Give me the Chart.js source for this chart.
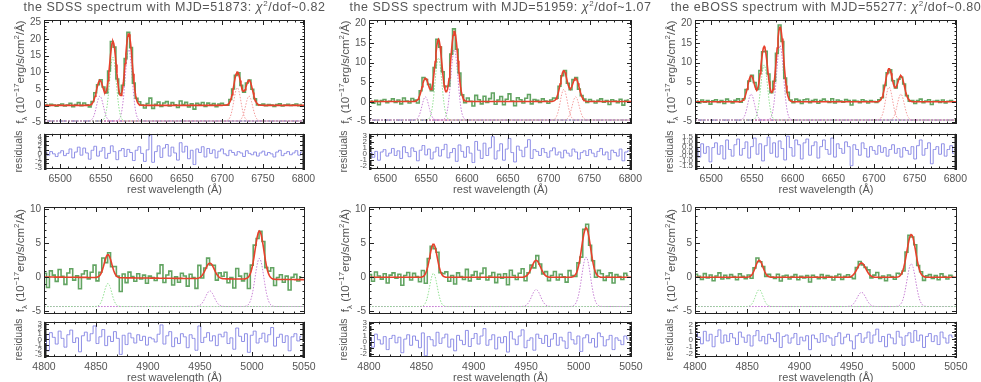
<!DOCTYPE html>
<html>
<head>
<meta charset="utf-8">
<script src="https://cdn.jsdelivr.net/npm/chart.js@4.4.1/dist/chart.umd.min.js"></script>
<style>
  body { margin: 0; background: #fff; width: 981px; height: 382px; overflow: hidden; position: relative;
         font-family: "Liberation Sans", Arial, sans-serif; }
  canvas { position: absolute; }
  .title { position: absolute; top: 0; font-size: 12.5px; color: #555; letter-spacing: 0.55px;
           white-space: nowrap; transform: translateX(-50%); }
  .title sup { font-size: 8px; vertical-align: 5px; line-height: 0; }
</style>
</head>
<body>
<script>
  // titles
  const titles = ["the SDSS spectrum with MJD=51873", "the SDSS spectrum with MJD=51959", "the eBOSS spectrum with MJD=55277"];
  const chi2 = ["0.82", "1.07", "0.80"];

  // x tick labels
  const haTicks = [6500, 6550, 6600, 6650, 6700, 6750, 6800];
  const hbTicks = [4800, 4850, 4900, 4950, 5000, 5050];

  // spectral sampling
  const haStart = 6482, haStep = 3.4;
  const hbStart = 4801, hbStep = 2.8;

  // emission lines: [NII]6548, Ha, [NII]6583, [SII]6716, [SII]6731
  const haLines = [6549, 6565, 6584.5, 6718.5, 6733];
  const haSigma = [4.2, 4.2, 4.3, 4.3, 4.3];
  const haAmp51873 = [7.5, 19.2, 21.5, 10.0, 7.5];
  const haAmp51959 = [5.9, 15.8, 17.9, 7.8, 5.9];
  const haAmp55277 = [6.6, 14.0, 19.0, 8.4, 6.6];
  const haCont = [[0.1, 0.1], [0.1, 0.1], [0.05, 0.05]];
  const haErr = [0.5, 0.75, 0.55];

  // Hb, [OIII]4959, [OIII]5007
  const hbLines = [4861.5, 4959.5, 5007.2];
  const hbSigma = [3.6, 4.2, 4.2];
  const hbAmp51873 = [3.4, 2.3, 7.1];
  const hbAmp51959 = [4.9, 2.5, 7.3];
  const hbAmp55277 = [2.5, 2.1, 6.3];
  const hbCont = [[0.05, -0.35], [0, 0], [0, 0]];
  const hbErr = [0.7, 0.65, 0.5];

  // residuals (data - model) / error
  const haRes51873 = [0.4,-0.2,0.6,0.1,-0.5,0.3,0.8,-0.3,0.2,1.2,
    -0.8,0.5,1.6,-0.2,1.4,0.3,-1.1,0.9,1.8,-0.4,
    0.7,1.5,-0.9,0.2,1.9,0.6,-1.2,0.8,1.3,-0.5,
    1.1,0.4,-1.4,0.9,1.7,0.2,-1.6,1.0,4.3,-1.8,
    0.6,1.9,-0.7,1.4,2.2,-0.4,1.6,0.3,-1.3,2.6,
    0.5,1.8,-1.0,0.9,-2.3,1.2,0.4,1.7,-0.6,1.3,
    0.2,1.0,-0.8,0.7,1.2,0.1,-0.3,0.9,0.4,-0.2,
    0.6,0.3,-0.5,0.8,0.2,-0.1,0.5,-0.4,0.3,0.7,
    -0.2,0.4,0.1,-0.6,0.5,0.9,-0.3,0.2,0.6,-0.1,
    0.3,0.8,-0.2,0.5];
  const haRes51959 = [0.2,-0.6,0.4,-1.1,0.3,0.7,-0.4,0.1,0.9,-0.3,
    0.5,-0.8,1.2,0.2,-0.5,1.0,0.4,-1.2,0.6,1.4,
    -0.2,0.8,-0.9,0.3,1.1,-0.4,0.7,1.6,-0.7,0.2,
    0.9,-1.3,1.5,0.4,-0.6,1.2,0.1,-1.5,2.1,0.6,
    -0.8,1.8,-0.3,1.0,2.9,-0.9,0.5,1.7,-1.1,0.8,
    2.6,0.2,-1.4,1.3,0.6,-0.5,1.1,2.4,-0.8,0.7,
    0.4,-0.3,0.9,0.2,-0.6,0.5,1.0,-0.2,0.3,-0.7,
    0.6,0.1,-0.4,0.8,0.3,-0.9,0.2,0.5,-0.3,0.7,
    0.1,-0.5,0.4,0.9,-0.2,0.3,-1.0,0.6,0.2,-0.4,
    0.8,-1.2,0.3,0.5];
  const haRes55277 = [0.3,-0.6,0.8,-0.2,0.5,-1.1,0.4,0.9,-0.3,0.6,
    -0.8,1.2,0.2,-0.5,0.7,1.3,-0.4,0.3,1.0,-0.7,
    0.5,1.4,-0.3,0.8,-1.0,0.6,1.5,-0.2,0.9,-0.6,
    1.1,0.3,-0.9,1.6,0.4,-0.5,1.2,0.7,-0.8,0.9,
    1.3,-0.4,0.6,1.0,-0.7,0.5,1.2,0.2,-0.3,1.4,
    -0.6,0.8,0.3,-0.2,1.0,0.5,-1.5,0.7,0.2,-0.4,
    0.9,0.3,-0.6,0.5,0.1,-0.3,0.6,-0.1,0.4,-0.5,
    0.2,0.7,-0.2,0.3,-0.6,0.4,0.1,-0.3,0.5,-0.8,
    0.6,1.2,-0.4,0.3,0.9,-1.3,0.2,0.5,-0.3,0.8,
    -0.5,0.2,0.6,-0.2];
  const hbRes51873 = [0.8,-2.2,1.3,0.4,-0.9,1.6,0.2,-1.5,0.9,1.8,
    -0.6,0.3,-2.4,0.7,1.4,-0.3,1.1,2.6,-0.8,0.5,
    1.9,-1.2,0.6,-0.4,1.5,0.2,-2.9,0.8,-1.0,1.2,
    0.3,-0.7,0.9,-0.2,0.6,-1.1,0.4,0.1,-0.5,1.0,
    2.8,-0.9,0.7,1.5,-1.4,0.3,-0.8,1.1,0.5,-1.6,
    0.9,0.2,-2.1,2.6,-0.6,0.4,1.3,-0.3,0.7,-1.2,
    1.0,0.5,1.4,-0.8,0.3,-1.9,2.2,0.6,-0.4,1.1,
    -2.5,0.8,1.6,-0.7,0.2,1.2,-0.5,0.9,2.3,-1.3,
    0.4,1.0,-0.6,0.7,-2.2,0.5,1.1,-0.3,0.6];
  const hbRes51959 = [0.6,-0.9,1.2,0.3,-0.4,0.8,-1.3,0.5,1.0,-0.2,
    0.7,-1.8,0.4,1.1,-0.6,0.9,0.2,-1.0,1.4,-2.3,
    0.8,0.3,-0.7,1.5,-0.3,0.6,1.2,-0.9,0.4,-1.5,
    1.0,0.2,-0.5,1.8,-0.8,0.5,1.3,-0.4,0.9,2.1,
    -0.6,0.3,1.1,-1.2,0.7,-0.2,0.8,-1.7,1.6,0.4,
    -0.5,0.9,1.9,-1.0,0.2,0.6,-1.4,1.2,0.5,-0.3,
    1.0,-0.8,0.4,1.3,-0.6,0.7,0.1,-1.1,1.5,0.3,
    -0.4,0.9,-1.6,0.6,1.1,-0.2,0.5,-0.9,1.4,0.8,
    -0.7,0.3,1.0,-1.3,0.6,0.2,-0.5,0.9,0.4];
  const hbRes55277 = [0.9,0.3,-0.6,1.1,-0.2,0.7,-1.0,0.4,1.3,-0.5,
    0.6,-0.3,0.8,0.2,-0.7,1.0,0.3,-0.4,0.6,-0.9,
    0.5,1.2,-0.2,0.4,-0.6,0.7,0.1,-0.3,0.9,-1.1,
    0.4,0.6,-0.5,0.2,0.8,-0.7,0.3,-0.2,0.5,-1.4,
    0.6,0.1,-0.4,0.8,-0.3,0.5,0.2,-0.8,0.4,0.9,
    -0.6,0.3,0.7,-0.2,-1.3,0.5,0.8,-0.4,0.2,1.0,
    -0.5,0.6,1.4,-0.3,0.4,-1.0,0.7,0.2,-0.6,1.1,
    0.3,-0.8,0.5,0.9,-0.4,1.2,-0.2,0.6,-1.1,0.4,
    0.8,-0.3,0.5,-0.7,1.0,0.2,-0.5,0.6,0.3];

  // ---- layout ----
  const colL = [44, 369, 695], colR = [305, 632, 957];
  const mainBox = [[20, 125], [207, 315]];
  const resBox = [[133, 169], [321, 357]];
  const font = '"Liberation Sans", Arial, sans-serif';
  const ink = "#555";
  const purple = "#c77fd4", lgreen = "#8fe08f", pink = "#f39a9a";

  const panels = [
    { row: 0, col: 0, lines: haLines, sig: haSigma, amp: haAmp51873, cont: haCont[0], err: haErr[0], res: haRes51873,
      yr: [-5.5, 25.7], rr: [-3.3, 4.6], rs: 1 },
    { row: 0, col: 1, lines: haLines, sig: haSigma, amp: haAmp51959, cont: haCont[1], err: haErr[1], res: haRes51959,
      yr: [-5.6, 20.8], rr: [-2.6, 3.4], rs: 1 },
    { row: 0, col: 2, lines: haLines, sig: haSigma, amp: haAmp55277, cont: haCont[2], err: haErr[2], res: haRes55277,
      yr: [-5.6, 20.8], rr: [-1.85, 1.85], rs: 0.5 },
    { row: 1, col: 0, lines: hbLines, sig: hbSigma, amp: hbAmp51873, cont: hbCont[0], err: hbErr[0], res: hbRes51873,
      yr: [-5.4, 10.35], rr: [-3.4, 3.4], rs: 1 },
    { row: 1, col: 1, lines: hbLines, sig: hbSigma, amp: hbAmp51959, cont: hbCont[1], err: hbErr[1], res: hbRes51959,
      yr: [-5.4, 10.35], rr: [-2.5, 3.2], rs: 1 },
    { row: 1, col: 2, lines: hbLines, sig: hbSigma, amp: hbAmp55277, cont: hbCont[2], err: hbErr[2], res: hbRes55277,
      yr: [-5.4, 10.35], rr: [-2.4, 2.4], rs: 1 },
  ];

  function addCanvas(left, top, w, h) {
    const c = document.createElement("canvas");
    c.width = w; c.height = h;
    c.style.left = left + "px"; c.style.top = top + "px";
    c.style.width = w + "px"; c.style.height = h + "px";
    document.body.appendChild(c);
    return c;
  }

  // ticks at whole multiples of step inside [min, max]
  function stepTicks(min, max, step) {
    const out = [];
    for (let k = Math.ceil(min / step - 1e-6); k * step <= max + 1e-6; k++) out.push({ value: +(k * step).toFixed(6) });
    return out;
  }

  // text with sub/superscripts, rotated to read bottom-up
  function drawRuns(ctx, runs, cx, cy, size) {
    ctx.save();
    ctx.translate(cx, cy);
    ctx.rotate(-Math.PI / 2);
    ctx.fillStyle = ink;
    ctx.textBaseline = "middle";
    ctx.textAlign = "left";
    const fnt = (r) => (r.s ? size * 0.68 : size) + "px " + font;
    let total = 0;
    runs.forEach((r) => { ctx.font = fnt(r); total += ctx.measureText(r.t).width; });
    let x = -total / 2;
    runs.forEach((r) => {
      ctx.font = fnt(r);
      const dy = r.s === "sup" ? -size * 0.38 : r.s === "sub" ? size * 0.3 : 0;
      ctx.fillText(r.t, x, dy);
      x += ctx.measureText(r.t).width;
    });
    ctx.restore();
  }

  // box with inward ticks on all sides, plus axis titles
  function frame(o) {
    return {
      id: "frame",
      afterDatasetsDraw(chart) {
        const { ctx, chartArea: a } = chart;
        const x = chart.scales.x, y = chart.scales.y;
        const isMajor = (v, m) => Math.abs(v / m - Math.round(v / m)) < 1e-6;
        ctx.save();
        ctx.strokeStyle = "#222";
        ctx.lineWidth = 1;
        ctx.beginPath();
        stepTicks(x.min, x.max, o.xMinor).forEach(({ value: v }) => {
          const len = isMajor(v, o.xMajor) ? 5 : 2.5;
          const p = Math.round(x.getPixelForValue(v)) + 0.5;
          ctx.moveTo(p, a.bottom); ctx.lineTo(p, a.bottom - len);
          ctx.moveTo(p, a.top); ctx.lineTo(p, a.top + len);
        });
        stepTicks(y.min, y.max, o.yMinor).forEach(({ value: v }) => {
          const len = isMajor(v, o.yMajor) ? 5 : 2.5;
          const p = Math.round(y.getPixelForValue(v)) + 0.5;
          ctx.moveTo(a.left, p); ctx.lineTo(a.left + len, p);
          ctx.moveTo(a.right, p); ctx.lineTo(a.right - len, p);
        });
        ctx.stroke();
        ctx.strokeRect(Math.round(a.left) + 0.5, Math.round(a.top) + 0.5, Math.round(a.width) - 1, Math.round(a.height) - 1);
        if (o.yTitle) drawRuns(ctx, o.yTitle, a.left - o.yTitleOff, (a.top + a.bottom) / 2, o.yTitleSize);
        if (o.xTitle) {
          ctx.fillStyle = ink;
          ctx.font = "11px " + font;
          ctx.textAlign = "center";
          ctx.textBaseline = "middle";
          ctx.fillText(o.xTitle, (a.left + a.right) / 2, a.bottom + 21);
        }
        ctx.restore();
      },
    };
  }

  const gauss = (l, c, s) => Math.exp(-0.5 * ((l - c) / s) ** 2);
  function model(p, l, xr) {
    let f = p.cont[0] + (p.cont[1] - p.cont[0]) * (l - xr[0]) / (xr[1] - xr[0]);
    p.lines.forEach((c, k) => { f += p.amp[k] * gauss(l, c, p.sig[k]); });
    return f;
  }

  const line = (data, color, width, extra) =>
    Object.assign({ data, borderColor: color, borderWidth: width, pointRadius: 0, fill: false, tension: 0 }, extra);

  const fluxTitle = [{ t: "f" }, { t: "λ", s: "sub" }, { t: " (10" }, { t: "−17", s: "sup" },
    { t: "erg/s/cm" }, { t: "2", s: "sup" }, { t: "/Å)" }];

  panels.forEach((p) => {
    const isHa = p.row === 0;
    const xr = isHa ? [6480, 6802] : [4800, 5051];
    const start = isHa ? haStart : hbStart, step = isHa ? haStep : hbStep;
    const base = isHa ? -4.6 : -4.3;
    const colors = isHa ? [purple, lgreen, purple, pink, pink] : [lgreen, purple, purple];
    const L = colL[p.col], R = colR[p.col];

    const waves = p.res.map((_, i) => start + i * step);
    const obs = waves.map((w, i) => ({ x: w, y: model(p, w, xr) + p.res[i] * p.err }));
    const fine = [];
    for (let w = xr[0]; w <= xr[1]; w += 1) fine.push(w);
    const fit = fine.map((w) => ({ x: w, y: model(p, w, xr) }));

    const datasets = [
      line(fit, "#e8402c", 1.6, { order: 1 }),
      line(obs, "#62a462", 1.6, { order: 2, stepped: "middle" }),
    ];
    p.lines.forEach((c, k) => {
      datasets.push(line(fine.map((w) => ({ x: w, y: base + p.amp[k] * gauss(w, c, p.sig[k]) })),
        colors[k], 1, { order: 3, borderDash: [1.5, 1.5] }));
    });
    if (isHa) datasets.push(line(xr.map((w) => ({ x: w, y: base })), "#3b3b9e", 1, { order: 4, borderDash: [2, 2] }));

    const [T, B] = mainBox[p.row];
    new Chart(addCanvas(L - 44, T - 10, R - L + 66, B - T + 18), {
      type: "line",
      data: { datasets },
      options: {
        responsive: false, animation: false, events: [],
        layout: { padding: { left: 0, top: 10, right: 22, bottom: 8 } },
        plugins: { legend: { display: false }, tooltip: { enabled: false } },
        scales: {
          x: { type: "linear", min: xr[0], max: xr[1], display: false },
          y: {
            min: p.yr[0], max: p.yr[1],
            afterFit: (s) => { s.width = 44; },
            afterBuildTicks: (s) => { s.ticks = stepTicks(p.yr[0], p.yr[1], 5); },
            grid: { display: false, drawTicks: false }, border: { display: false },
            ticks: { padding: 3, color: ink, font: { family: font, size: 10 } },
          },
        },
      },
      plugins: [frame({ xMinor: 10, xMajor: 50, yMinor: 1, yMajor: 5, yTitle: fluxTitle, yTitleOff: 23, yTitleSize: 11.5 })],
    });

    // residual panel
    const [rT, rB] = resBox[p.row];
    const resData = waves.map((w, i) => ({ x: w, y: p.res[i] }));
    const xTicks = isHa ? haTicks : hbTicks;
    new Chart(addCanvas(L - 44, rT - 6, R - L + 66, rB - rT + 38), {
      type: "line",
      data: { datasets: [line(resData, "#8d8de6", 1, { stepped: "middle" })] },
      options: {
        responsive: false, animation: false, events: [],
        layout: { padding: { left: 0, top: 6, right: 22, bottom: 0 } },
        plugins: { legend: { display: false }, tooltip: { enabled: false } },
        scales: {
          x: {
            type: "linear", min: xr[0], max: xr[1],
            afterFit: (s) => { s.height = 32; },
            afterBuildTicks: (s) => { s.ticks = xTicks.map((v) => ({ value: v })); },
            grid: { display: false, drawTicks: false }, border: { display: false },
            ticks: { autoSkip: false, maxRotation: 0, padding: 4, color: ink, font: { family: font, size: 10.5 },
                     callback: (v) => String(v) },
          },
          y: {
            min: p.rr[0], max: p.rr[1],
            afterFit: (s) => { s.width = 44; },
            afterBuildTicks: (s) => { s.ticks = stepTicks(p.rr[0], p.rr[1], p.rs); },
            grid: { display: false, drawTicks: false }, border: { display: false },
            ticks: { autoSkip: false, padding: 2, color: ink,
                     font: { family: font, size: 8 }, callback: (v) => (p.rs < 1 ? v.toFixed(1) : String(v)) },
          },
        },
      },
      plugins: [frame({ xMinor: 10, xMajor: 50, yMinor: p.rs / 5, yMajor: p.rs,
        yTitle: [{ t: "residuals" }], yTitleOff: 25, yTitleSize: 10.5, xTitle: "rest wavelength (Å)" })],
    });
  });

  titles.forEach((t, i) => {
    const d = document.createElement("div");
    d.className = "title";
    d.style.left = (colL[i] + colR[i]) / 2 + "px";
    d.innerHTML = t + ": <i>χ</i><sup>2</sup>/dof~" + chi2[i];
    document.body.appendChild(d);
  });
</script>
</body>
</html>
